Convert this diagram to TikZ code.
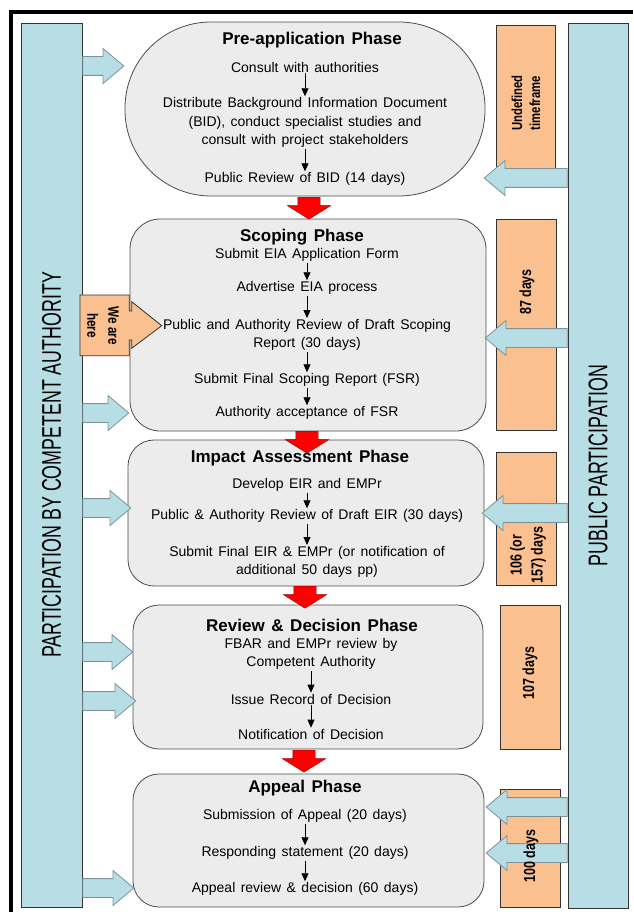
\documentclass[tikz,border=0pt]{standalone}
\usepackage{fontspec}
\setmainfont[WordSpace=1.4]{Liberation Sans}
\newfontfamily\narrowbold[FakeStretch=0.78]{Liberation Sans Bold}
\newfontfamily\barfont[FakeStretch=0.66]{Liberation Sans}
\usetikzlibrary{shapes.arrows,arrows.meta,positioning}
\definecolor{barblue}{RGB}{183,222,228}
\definecolor{arrowedge}{RGB}{125,145,155}
\definecolor{timeorange}{RGB}{250,192,144}
\definecolor{phasegray}{RGB}{236,236,236}

\begin{document}
\begin{tikzpicture}[x=1pt,y=-1pt,
    every node/.style={inner sep=1pt},
    body/.style={font=\fontsize{14}{18.5}\selectfont, align=center},
    title/.style={font=\bfseries\fontsize{17}{20}\selectfont},
    sidebar/.style={draw=black!80, fill=barblue, inner sep=0pt, line width=0.8pt},
    timebar/.style={draw=black!80, fill=timeorange, inner sep=0pt, line width=0.8pt},
    timetext/.style={rotate=90, align=center, font=\narrowbold\fontsize{16}{21}\selectfont},
    phasebox/.style={draw=black!70, fill=phasegray, inner sep=0pt, line width=0.8pt},
    flow/.style={-{Triangle[width=7pt,length=8pt]}, line width=0.8pt},
    bluearrow/.style={single arrow, draw=arrowedge, fill=barblue, line width=0.8pt,
        inner xsep=0pt, inner ysep=9pt, single arrow head extend=8pt,
        single arrow tip angle=80, minimum height=#1},
    redarrow/.style={single arrow, draw=red!60!black, fill=red, rotate=-90,
        inner xsep=0pt, inner ysep=11pt, single arrow head extend=10.5pt,
        single arrow tip angle=116, minimum height=22pt},
]
\useasboundingbox (0,0) rectangle (633,912);
\draw[line width=4pt] (10.5,912) -- (10.5,12.5) -- (633,12.5);

% side bars
\node[sidebar, minimum width=61pt, minimum height=884pt] (cabar) at (51.5,465)
    {\rotatebox{90}{\barfont\fontsize{27}{27}\selectfont PARTICIPATION BY COMPETENT AUTHORITY}};
\node[sidebar, minimum width=60pt, minimum height=885pt] (pubar) at (598,465.5)
    {\rotatebox{90}{\barfont\fontsize{27}{27}\selectfont PUBLIC PARTICIPATION}};

% time frames
\node[timebar, minimum width=59pt, minimum height=147pt] (tb1) at (525.5,98.5) {};
\node[timebar, minimum width=60pt, minimum height=211pt] (tb2) at (526,324.5) {};
\node[timebar, minimum width=60pt, minimum height=133pt] (tb3) at (526,518.5) {};
\node[timebar, minimum width=60pt, minimum height=144pt] (tb4) at (530,677) {};
\node[timebar, minimum width=60pt, minimum height=118pt] (tb5) at (530,848) {};
\node[timetext, font=\narrowbold\fontsize{14.5}{18}\selectfont] (tt1) at (526,103) {Undefined\\timeframe};
\node[timetext] (tt2) at (527,292) {87 days};
\node[timetext] (tt3) at (528,555) {106 (or\\157) days};
\node[timetext] (tt4) at (530,673) {107 days};

% phases
\node[phasebox, minimum width=360pt, minimum height=174pt, rounded corners=86pt] (pre) at (305,109) {};
\node[phasebox, minimum width=356pt, minimum height=212pt, rounded corners=30pt] (scope) at (308,325) {};
\node[phasebox, minimum width=356pt, minimum height=146pt, rounded corners=26pt] (impact) at (306,513) {};
\node[phasebox, minimum width=350pt, minimum height=144pt, rounded corners=26pt] (review) at (308,677) {};
\node[phasebox, minimum width=351pt, minimum height=133pt, rounded corners=26pt] (appeal) at (308.5,840.5) {};

\node[redarrow, anchor=tail] (r1) at (309,197) {};
\node[redarrow, anchor=tail] (r2) at (307,431) {};
\node[redarrow, anchor=tail] (r3) at (305,586) {};
\node[redarrow, anchor=tail] (r4) at (304,750) {};

% participation arrows
\node[bluearrow=41pt, anchor=tail] (ca1) at (cabar.east |- 0,66) {};
\node[bluearrow=46pt, anchor=tail] (ca2) at (cabar.east |- 0,413) {};
\node[bluearrow=48pt, anchor=tail] (ca3) at (cabar.east |- 0,508) {};
\node[bluearrow=50pt, anchor=tail] (ca4) at (cabar.east |- 0,652) {};
\node[bluearrow=53pt, anchor=tail] (ca5) at (cabar.east |- 0,701) {};
\node[bluearrow=51pt, anchor=tail] (ca6) at (cabar.east |- 0,888) {};
\node[bluearrow=83pt, anchor=tail, rotate=180] (pp1) at (pubar.west |- 0,178) {};
\node[bluearrow=82pt, anchor=tail, rotate=180] (pp2) at (pubar.west |- 0,338) {};
\node[bluearrow=85pt, anchor=tail, rotate=180] (pp3) at (pubar.west |- 0,513) {};
\node[bluearrow=81pt, anchor=tail, rotate=180] (pp4) at (pubar.west |- 0,807) {};
\node[bluearrow=81pt, anchor=tail, rotate=180] (pp5) at (pubar.west |- 0,853) {};
\node[timetext] (tt5) at (531,856) {100 days};

% we are here
\draw[draw=black!80, fill=timeorange, line width=0.8pt]
    (80,295) -- (129.3,295) -- (129.3,311) -- (131.7,311) -- (131.7,301.7) -- (161.7,325.7)
    -- (131.7,348.3) -- (131.7,340) -- (129.3,340) -- (129.3,355.7) -- (80,355.7) -- cycle;
\node[rotate=-90, align=center, font=\narrowbold\fontsize{15}{21}\selectfont] (here) at (103,325.5) {We are\\here};

% pre-application
\node[title] (preT) at (312,40) {Pre-application Phase};
\node[body] (pre1) at (305,67) {Consult with authorities};
\node[body] (pre2) at (305,122.5) {Distribute Background Information Document\\(BID), conduct specialist studies and\\consult with project stakeholders};
\node[body] (pre3) at (305,179) {Public Review of BID (14 days)};
\draw[flow] (pre1) -- (pre2);
\draw[flow] (pre2) -- (pre3);

% scoping
\node[title] (scT) at (302,237) {Scoping Phase};
\node[body] (sc1) at (307,255) {Submit EIA Application Form};
\node[body] (sc2) at (307,288) {Advertise EIA process};
\node[body] (sc3) at (307,335) {Public and Authority Review of Draft Scoping\\Report (30 days)};
\node[body] (sc4) at (307,380) {Submit Final Scoping Report (FSR)};
\node[body] (sc5) at (307,413) {Authority acceptance of FSR};
\draw[flow] (sc1) -- (sc2);
\draw[flow] (sc2) -- (sc3);
\draw[flow] (sc3) -- (sc4);
\draw[flow] (sc4) -- (sc5);

% impact assessment
\node[title] (imT) at (300,458) {Impact Assessment Phase};
\node[body] (im1) at (307,485) {Develop EIR and EMPr};
\node[body] (im2) at (307,516) {Public \& Authority Review of Draft EIR (30 days)};
\node[body] (im3) at (307,562) {Submit Final EIR \& EMPr (or notification of\\additional 50 days pp)};
\draw[flow] (im1) -- (im2);
\draw[flow] (im2) -- (im3);

% review and decision
\node[title] (rvT) at (312,625) {Review \& Decision Phase};
\node[body] (rv1) at (311,654) {FBAR and EMPr review by\\Competent Authority};
\node[body] (rv2) at (311,699) {Issue Record of Decision};
\node[body] (rv3) at (311,734) {Notification of Decision};
\draw[flow] (rv1) -- (rv2);
\draw[flow] (rv2) -- (rv3);

% appeal
\node[title] (apT) at (305,788) {Appeal Phase};
\node[body] (ap1) at (305,816) {Submission of Appeal (20 days)};
\node[body] (ap2) at (305,853) {Responding statement (20 days)};
\node[body] (ap3) at (305,889) {Appeal review \& decision (60 days)};
\draw[flow] (ap1) -- (ap2);
\draw[flow] (ap2) -- (ap3);
\end{tikzpicture}
\end{document}
